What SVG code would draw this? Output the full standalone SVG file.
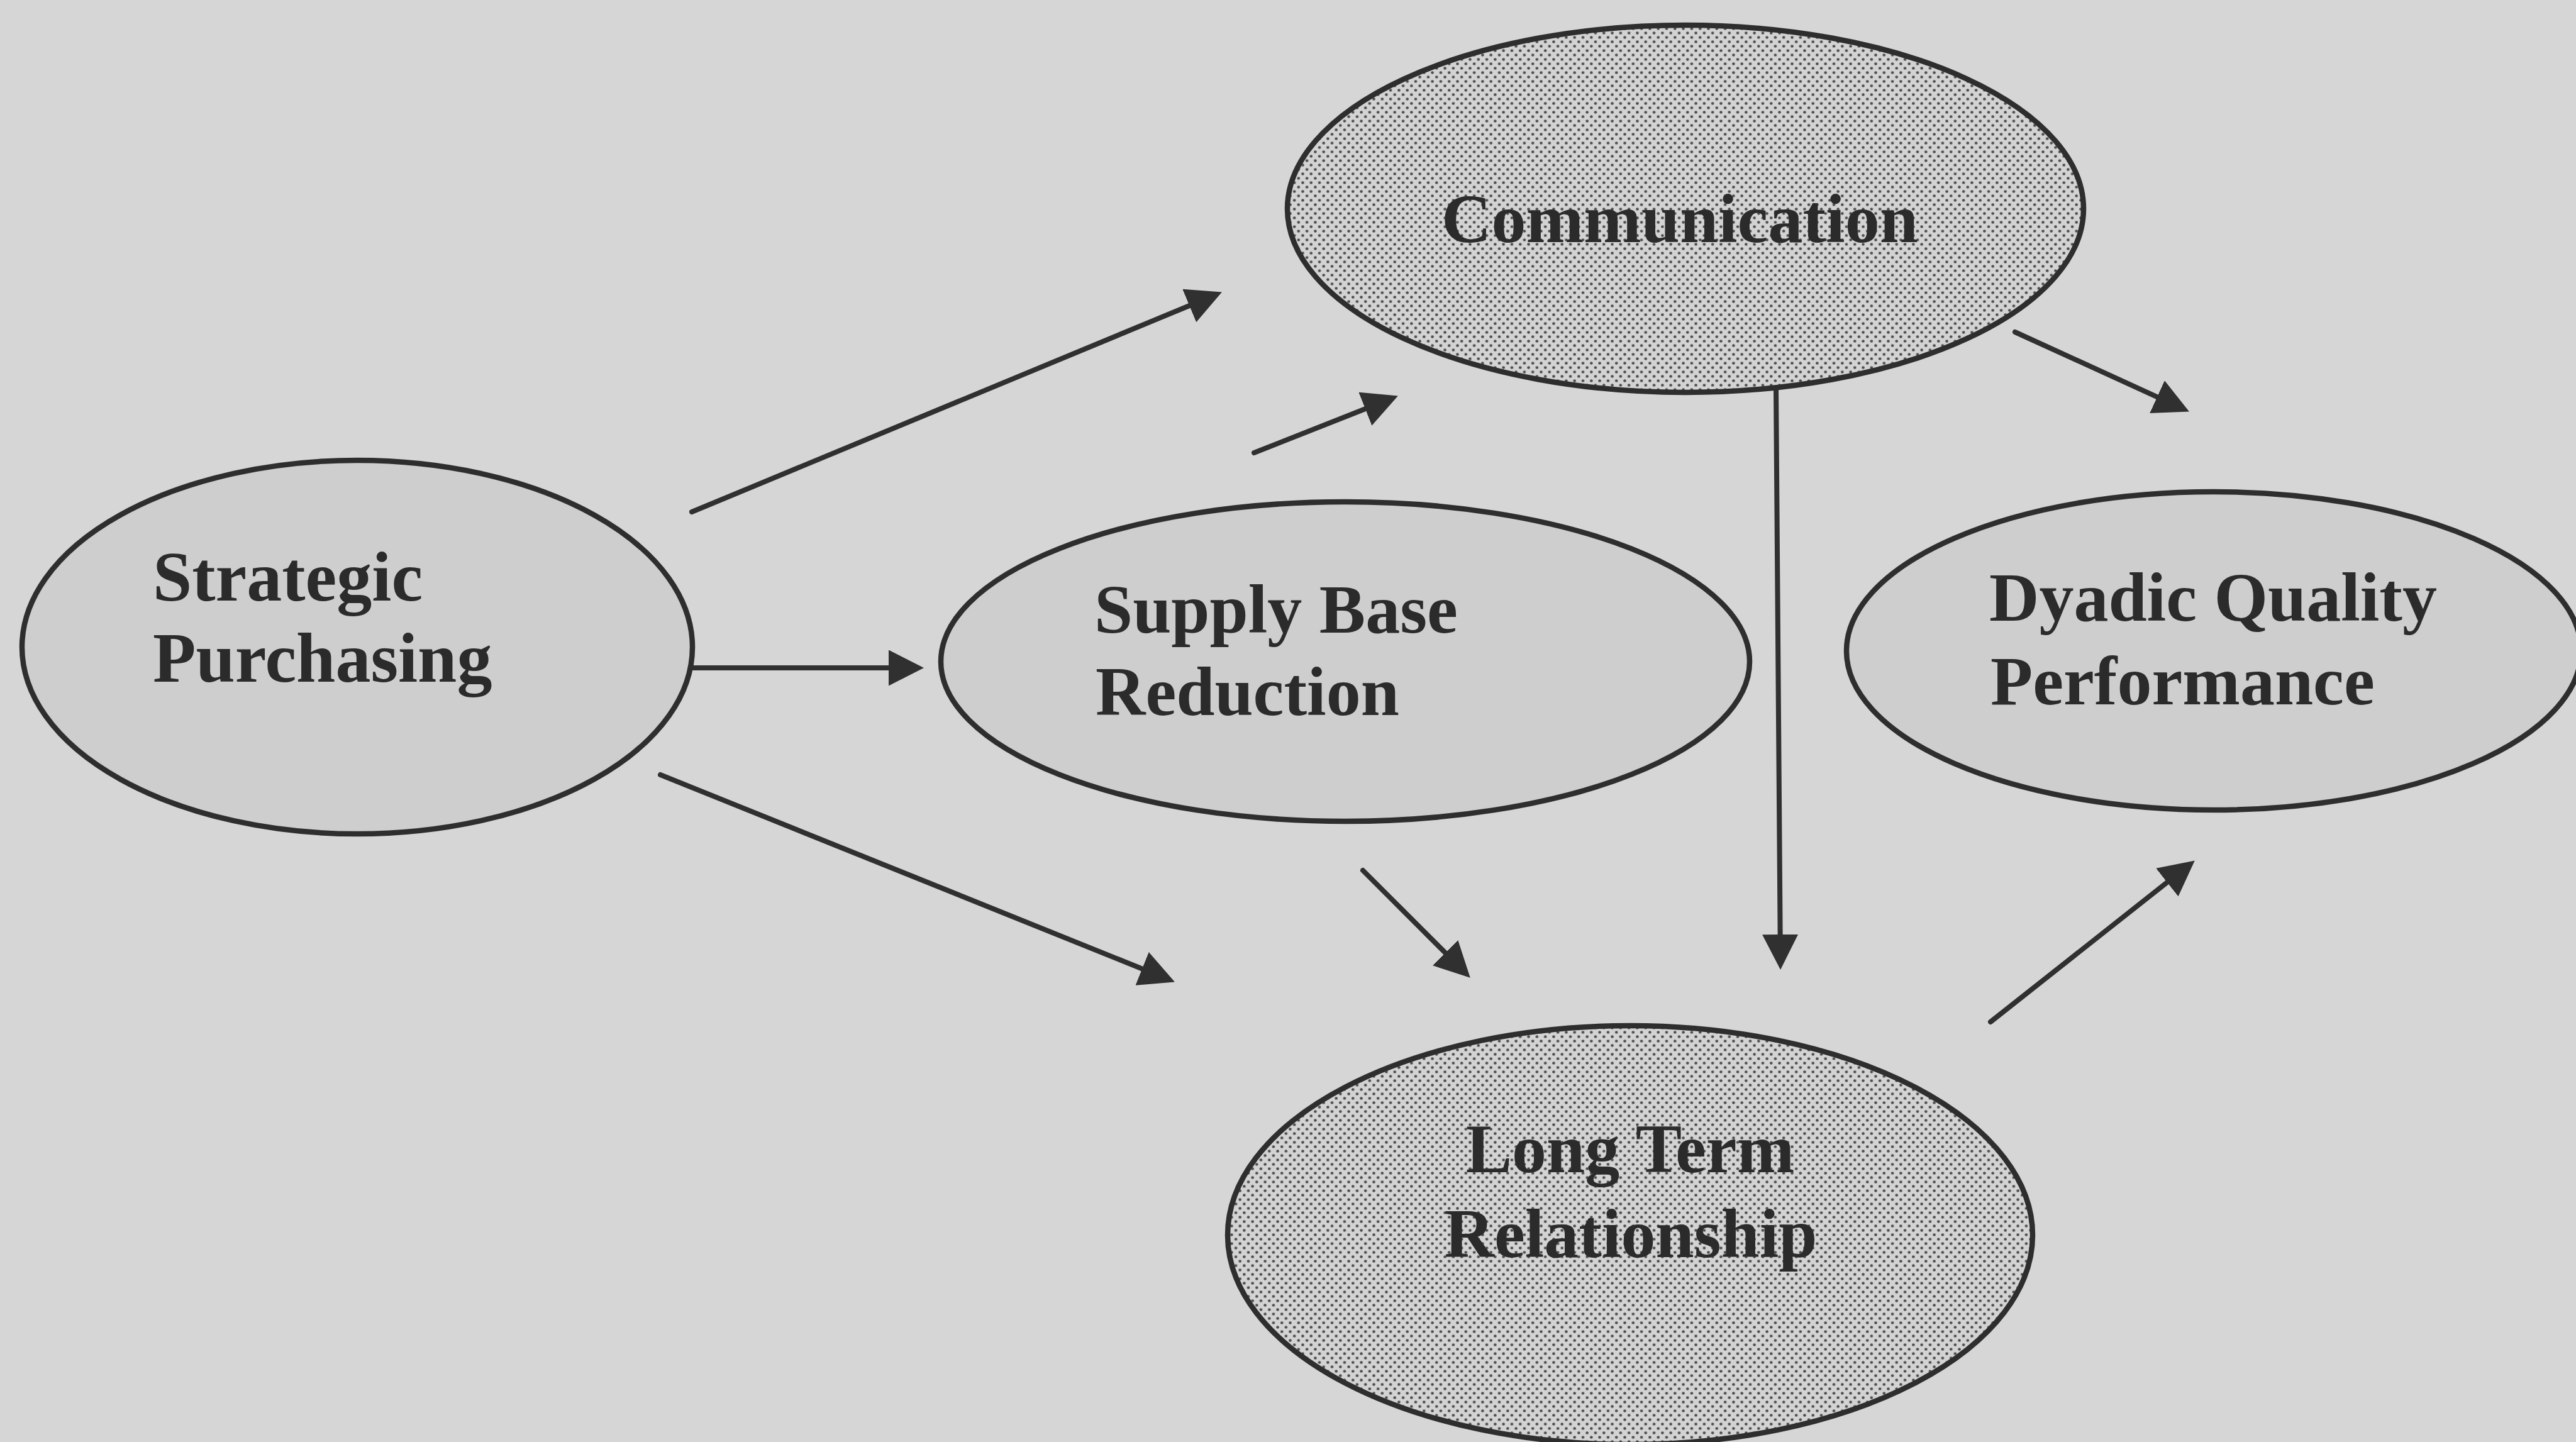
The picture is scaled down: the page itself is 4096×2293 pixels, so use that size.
<svg xmlns="http://www.w3.org/2000/svg" width="4096" height="2293" viewBox="0 0 4096 2293">
  <defs>
    <!-- halftone dot screen used for the two shaded constructs -->
    <pattern id="halftone" patternUnits="userSpaceOnUse" width="13.3" height="14">
      <rect width="13.3" height="14" fill="#d3d3d3"/>
      <circle cx="3.3" cy="3.5" r="2.3" fill="#4d4d4d"/>
      <circle cx="9.95" cy="10.5" r="2.3" fill="#4d4d4d"/>
    </pattern>
    <marker id="arrow" markerUnits="userSpaceOnUse" viewBox="0 0 56 57" refX="10" refY="28.5" markerWidth="56" markerHeight="57" orient="auto">
      <path d="M0,0 L56,28.5 L0,57 z" fill="#303030"/>
    </marker>
    <style>
      .node { stroke: #2e2e2e; stroke-width: 8.5; }
      .light { fill: #cecece; }
      .dark { fill: url(#halftone); }
      .label { font-family: "Liberation Serif", "Times New Roman", serif; font-weight: bold; font-size: 110px; fill: #2b2b2b; }
      .wide { font-size: 112px; }
      .link { stroke: #303030; stroke-width: 8; stroke-linecap: round; fill: none; marker-end: url(#arrow); }
    </style>
  </defs>

  <rect width="4096" height="2293" fill="#d6d6d6"/>

  <g id="connectors">
    <line class="link" x1="1100" y1="814" x2="1900.4" y2="482.2"/>
    <line class="link" x1="1100" y1="1062" x2="1423" y2="1062"/>
    <line class="link" x1="1050" y1="1232" x2="1825.3" y2="1544.2"/>
    <line class="link" x1="1994" y1="720" x2="2180.1" y2="646.5"/>
    <line class="link" x1="3204" y1="528" x2="3439.1" y2="635.3"/>
    <line class="link" x1="2824" y1="618" x2="2830.7" y2="1496"/>
    <line class="link" x1="2167" y1="1384" x2="2305.2" y2="1522.2"/>
    <line class="link" x1="3165" y1="1625" x2="3453.7" y2="1396.9"/>
  </g>

  <g id="communication">
    <ellipse class="node dark" cx="2680" cy="332" rx="633" ry="292"/>
    <text class="label" x="2292" y="385">Communication</text>
  </g>

  <g id="strategic-purchasing">
    <ellipse class="node light" cx="568" cy="1029" rx="533" ry="297"/>
    <text class="label wide" x="243" y="955">Strategic</text>
    <text class="label wide" x="243" y="1084">Purchasing</text>
  </g>

  <g id="supply-base-reduction">
    <ellipse class="node light" cx="2139" cy="1052" rx="643" ry="254"/>
    <text class="label" x="1740" y="1006">Supply Base</text>
    <text class="label" x="1742" y="1137">Reduction</text>
  </g>

  <g id="dyadic-quality-performance">
    <ellipse class="node light" cx="3520" cy="1035" rx="584" ry="253"/>
    <text class="label" x="3163" y="987">Dyadic Quality</text>
    <text class="label" x="3165" y="1120">Performance</text>
  </g>

  <g id="long-term-relationship">
    <ellipse class="node dark" cx="2592" cy="1964" rx="640" ry="333"/>
    <text class="label" x="2592" y="1864" text-anchor="middle">Long Term</text>
    <text class="label" x="2593" y="1999" text-anchor="middle">Relationship</text>
  </g>
</svg>
